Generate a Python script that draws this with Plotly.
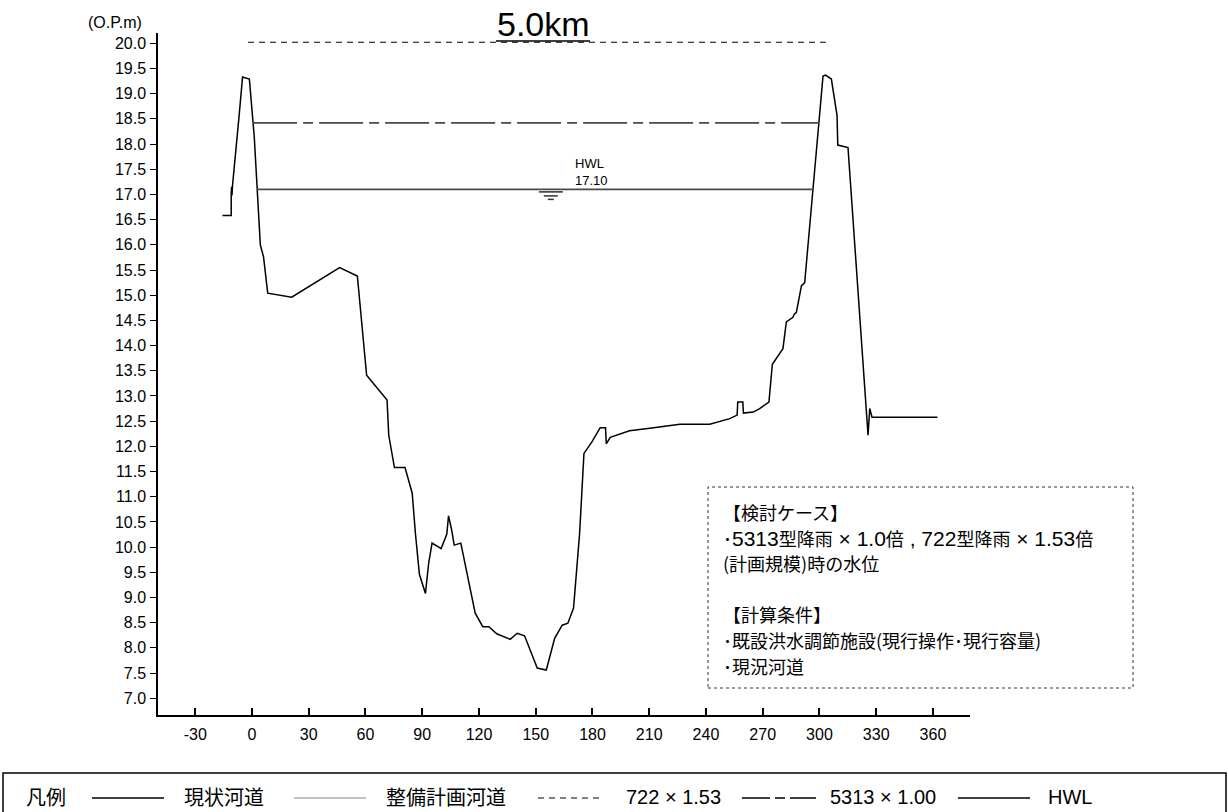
import plotly.graph_objects as go

# ---- cross-section survey (distance from left bank [m], elevation [O.P.m]) ----
dist = [-15.6, -11.0, -11.0, -10.8, -10.6, -10.3, -6.7, -5.0, -1.4, 1.2, 4.4, 6.1, 8.3,
        21.0, 46.3, 55.7, 60.6, 71.4, 72.3, 75.3, 80.9, 84.7, 86.4, 88.5, 91.7, 93.4,
        95.2, 100.0, 103.0, 103.9, 105.4, 106.9, 110.4, 118.0, 122.0, 125.2, 129.4,
        136.5, 140.2, 144.1, 150.8, 155.6, 160.0, 164.0, 167.0, 170.0, 173.2, 175.5,
        179.7, 184.1, 186.9, 187.3, 189.4, 199.6, 210.3, 226.2, 242.0, 252.6, 256.5,
        256.8, 259.5, 259.8, 265.0, 268.4, 273.3, 275.1, 280.7, 282.5, 286.0, 286.6,
        287.8, 290.5, 292.2, 301.9, 303.2, 306.3, 309.3, 309.7, 315.1, 325.7, 326.6,
        327.8, 362.4]
elev = [16.58, 16.58, 17.00, 17.15, 16.98, 17.18, 18.61, 19.33, 19.29, 18.14, 16.00, 15.76, 15.04,
        14.96, 15.55, 15.38, 13.41, 12.92, 12.22, 11.58, 11.58, 11.07, 10.27, 9.46, 9.08, 9.68,
        10.08, 9.97, 10.26, 10.62, 10.37, 10.04, 10.08, 8.69, 8.42, 8.42, 8.28,
        8.17, 8.29, 8.24, 7.60, 7.56, 8.19, 8.45, 8.49, 8.79, 10.27, 11.86,
        12.09, 12.37, 12.37, 12.05, 12.18, 12.31, 12.36, 12.44, 12.44, 12.55, 12.62,
        12.88, 12.88, 12.66, 12.68, 12.75, 12.88, 13.63, 13.94, 14.47, 14.56, 14.62,
        14.66, 15.19, 15.25, 19.35, 19.37, 19.29, 18.57, 17.98, 17.93, 12.22, 12.75,
        12.58, 12.58]

# ---- computed water levels: [level, left edge, right edge] ----
wl_722 = [20.02, -2.1, 303.4]      # 722型降雨 x 1.53
wl_5313 = [18.42, 0.6, 299.7]      # 5313型降雨 x 1.00
hwl = [17.10, 2.75, 296.6]         # HWL

x_ticks = [-30, 0, 30, 60, 90, 120, 150, 180, 210, 240, 270, 300, 330, 360]
y_ticks = [7.0 + 0.5 * i for i in range(27)]

section_title = "5.0km"
legend_items = ["現状河道", "整備計画河道", "722 × 1.53", "5313 × 1.00", "HWL"]


def num(s):
    # numerals in the notes are set a little larger than the kana/kanji
    return "<span style='font-size:21px;font-family:Liberation Sans'>%s</span>" % s


note_lines = ["【検討ケース】",
              "･" + num("5313") + "型降雨" + num(" × 1.0") + "倍" + num(" , 722") + "型降雨"
              + num(" × 1.53") + "倍",
              "(計画規模)時の水位",
              "",
              "【計算条件】",
              "･既設洪水調節施設(現行操作･現行容量)",
              "･現況河道"]

LATIN = "Liberation Sans, Arial, Noto Sans CJK JP, sans-serif"
JP = "Noto Sans CJK JP, Liberation Sans, sans-serif"

W, H = 1228, 812
L, R, T, B = 158, 258, 33, 97
PW, PH = W - L - R, H - T - B


def px(x):
    return (x - L) / PW


def py(y):
    return (H - B - y) / PH


def note(xp, yp, text, size, family, xanchor="left"):
    return dict(x=px(xp), y=py(yp), xref="paper", yref="paper", xanchor=xanchor,
                yanchor="middle", text=text, showarrow=False,
                font=dict(family=family, size=size, color="#000"))


fig = go.Figure()

fig.add_trace(go.Scatter(x=dist, y=elev, mode="lines",
                         line=dict(color="#000000", width=1.5), showlegend=False))
fig.add_trace(go.Scatter(x=[wl_722[1], wl_722[2]], y=[wl_722[0], wl_722[0]], mode="lines",
                         line=dict(color="#000000", width=1.2, dash="6px,5px"), showlegend=False))
fig.add_trace(go.Scatter(x=[wl_5313[1], wl_5313[2]], y=[wl_5313[0], wl_5313[0]], mode="lines",
                         line=dict(color="#4a4a4a", width=1.8, dash="44px,6px,10px,6px"),
                         showlegend=False))
fig.add_trace(go.Scatter(x=[hwl[1], hwl[2]], y=[hwl[0], hwl[0]], mode="lines",
                         line=dict(color="#4a4a4a", width=1.8), showlegend=False))

shapes = []
annotations = []

# water-surface mark under the HWL line
for off, half in [(-2.5, 12), (-6.5, 7), (-10, 3)]:
    shapes.append(dict(type="line", xref="x", yref="y", ysizemode="pixel", yanchor=hwl[0],
                       xsizemode="pixel", xanchor=158.0,
                       x0=-half, x1=half, y0=off, y1=off,
                       line=dict(color="#333333", width=1.5)))
annotations.append(dict(x=169.5, y=hwl[0], xref="x", yref="y", xanchor="left", yanchor="bottom",
                        text="HWL<br>%.2f" % hwl[0], showarrow=False, align="left",
                        font=dict(family=LATIN, size=13, color="#000"), yshift=-1))

# section title with underline
annotations.append(note(543, 24, section_title, 34, LATIN, xanchor="center"))
shapes.append(dict(type="line", xref="paper", yref="paper", x0=px(496), x1=px(590),
                   y0=py(41), y1=py(41), line=dict(color="#000", width=1.5)))

# unit label
annotations.append(note(86, 22, "(O.P.m)", 16, LATIN))

# notes box
shapes.append(dict(type="rect", xref="paper", yref="paper", x0=px(708), x1=px(1133),
                   y0=py(688), y1=py(487), line=dict(color="#333", width=1, dash="dot")))
for i, line in enumerate(note_lines):
    if line:
        annotations.append(note(721, 512 + 25.6 * i, line, 18, JP))

# legend strip
shapes.append(dict(type="rect", xref="paper", yref="paper", x0=px(3), x1=px(1226),
                   y0=py(830), y1=py(773), line=dict(color="#000", width=1.5)))
ly = 797
annotations.append(note(24, ly, "凡例", 20, JP))
sample_x = [(92, 164), (294, 366), (538, 604), (742, 816), (958, 1030)]
sample_style = [dict(color="#000", width=1.5),
                dict(color="#888", width=1.2),
                dict(color="#000", width=1.2, dash="6px,5px"),
                dict(color="#000", width=1.5, dash="28px,5px,10px,5px"),
                dict(color="#000", width=1.5)]
label_x = [182, 384, 624, 828, 1046]
for (a, b), st, lx, txt in zip(sample_x, sample_style, label_x, legend_items):
    shapes.append(dict(type="line", xref="paper", yref="paper", x0=px(a), x1=px(b),
                       y0=py(ly + 1), y1=py(ly + 1), line=st))
    annotations.append(note(lx, ly, txt, 20, JP if txt[0] > "~" else LATIN))

fig.update_layout(
    width=W, height=H,
    margin=dict(l=L, r=R, t=T, b=B, pad=0),
    paper_bgcolor="#ffffff", plot_bgcolor="#ffffff",
    shapes=shapes, annotations=annotations,
    showlegend=False,
)
fig.update_xaxes(range=[-49.7, 379.6], tickvals=x_ticks, ticktext=[str(v) for v in x_ticks],
                 ticks="inside", ticklen=7, tickwidth=1.5, tickcolor="#000",
                 showline=True, linecolor="#000", linewidth=1.5, showgrid=False, zeroline=False,
                 tickfont=dict(family=LATIN, size=16, color="#000"), ticklabelstandoff=4)
fig.update_yaxes(range=[6.668, 20.204], tickvals=y_ticks, ticktext=["%.1f" % v for v in y_ticks],
                 ticks="outside", ticklen=6, tickwidth=1.2, tickcolor="#000",
                 showline=True, linecolor="#000", linewidth=1.5, showgrid=False, zeroline=False,
                 tickfont=dict(family=LATIN, size=16, color="#000"), ticklabelstandoff=1)

fig.write_html("out.html")
